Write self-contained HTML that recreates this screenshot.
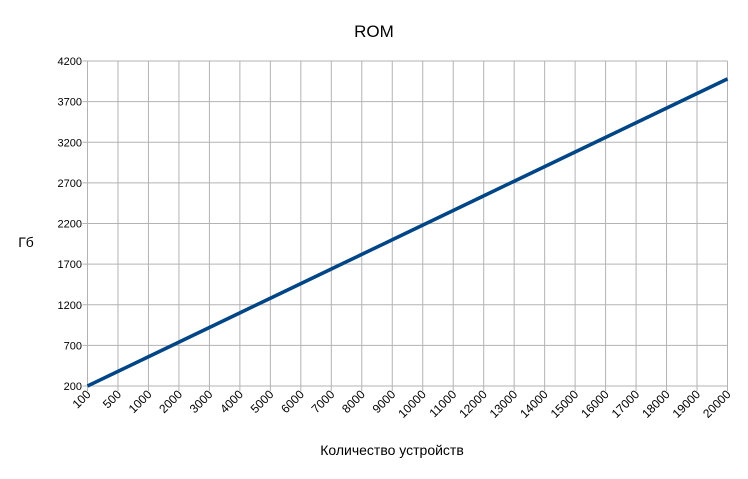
<!DOCTYPE html>
<html><head><meta charset="utf-8"><style>body{margin:0;background:#fff}svg{display:block}text{font-family:"Liberation Sans","DejaVu Sans",sans-serif}</style></head>
<body>
<svg width="748" height="479" xmlns="http://www.w3.org/2000/svg">
<rect width="748" height="479" fill="#fff"/>
<text x="374" y="37" font-size="17" text-anchor="middle" fill="#000">ROM</text>
<text x="26" y="247" font-size="14" text-anchor="middle" fill="#000">Гб</text>
<text x="392" y="455" font-size="14" text-anchor="middle" fill="#000">Количество устройств</text>
</svg>
<script>
var svg=document.querySelector('svg'),ns='http://www.w3.org/2000/svg';
function el(t,a,txt){var e=document.createElementNS(ns,t);for(var k in a)e.setAttribute(k,a[k]);if(txt!=null)e.textContent=txt;svg.appendChild(e);return e;}
var L=87.5,R=727.5,T=61,B=386;
for(var i=0;i<=8;i++){var y=B-(B-T)*i/8;el('line',{x1:L-5,x2:R,y1:y,y2:y,stroke:'#b3b3b3','stroke-width':1});
el('text',{x:82,y:y+4,'font-size':11,'text-anchor':'end',fill:'#000'},200+500*i);}
var cats=[100,500];for(var c=1000;c<=20000;c+=1000)cats.push(c);
var n=cats.length-1;
for(var i=0;i<=n;i++){var x=L+(R-L)*i/n;el('line',{x1:x,x2:x,y1:T,y2:B+5,stroke:'#b3b3b3','stroke-width':1});
el('text',{x:x+4,y:B+9,'font-size':12,'text-anchor':'end',fill:'#000',transform:'rotate(-45 '+(x+4)+' '+(B+9)+')'},cats[i]);}
var pts=[];for(var i=0;i<=n;i++){var v=200+i*180;pts.push((L+(R-L)*i/n)+','+(B-(v-200)/4000*(B-T)));}
el('polyline',{points:pts.join(' '),fill:'none',stroke:'#004586','stroke-width':3.5,'stroke-linejoin':'round'});
</script>
</body></html>
